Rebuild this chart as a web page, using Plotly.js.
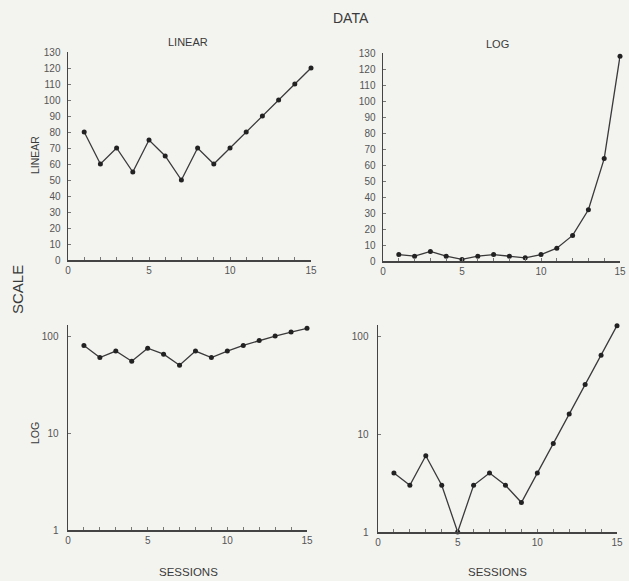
<!DOCTYPE html>
<html>
<head>
<meta charset="utf-8">
<script src="https://cdn.plot.ly/plotly-3.0.1.min.js"></script>
<style>
  html, body { margin: 0; padding: 0; background: #f3f4f0; }
  #chart { width: 629px; height: 581px; }
</style>
</head>
<body>
<div id="chart"></div>
<script>
// Sessions 1..15
const sessions = [1, 2, 3, 4, 5, 6, 7, 8, 9, 10, 11, 12, 13, 14, 15];
// Series that grows by a constant amount (linear data)
const linearData = [80, 60, 70, 55, 75, 65, 50, 70, 60, 70, 80, 90, 100, 110, 120];
// Series that doubles each step after session 9 (log data)
const logData = [4, 3, 6, 3, 1, 3, 4, 3, 2, 4, 8, 16, 32, 64, 128];

// Tick labels
const xTickVals = [0, 1, 2, 3, 4, 5, 6, 7, 8, 9, 10, 11, 12, 13, 14, 15];
const xTickText = ['0', '', '', '', '', '5', '', '', '', '', '10', '', '', '', '', '15'];
const linTickVals = [0, 10, 20, 30, 40, 50, 60, 70, 80, 90, 100, 110, 120, 130];
const logTickVals = [1, 10, 100];
const logTickText = ['1', '10', '100'];

const W = 629, H = 581;
const px = v => v / W;
const py = v => 1 - v / H;

const lineStyle = { color: '#3a3a3a', width: 1.3 };
const markerStyle = { color: '#222', size: 5 };
const tickFont = { family: 'Liberation Sans, Arial, sans-serif', size: 10, color: '#555' };

function trace(y, xa, ya) {
  return {
    x: sessions, y: y, xaxis: xa, yaxis: ya,
    type: 'scatter', mode: 'lines+markers', cliponaxis: false,
    line: lineStyle, marker: markerStyle, hoverinfo: 'skip'
  };
}

const data = [
  trace(linearData, 'x', 'y'),
  trace(logData, 'x2', 'y2'),
  trace(linearData, 'x3', 'y3'),
  trace(logData, 'x4', 'y4')
];

function xAxis(d0, d1, anchor) {
  return {
    domain: [px(d0), px(d1)], anchor: anchor, range: [0, 15],
    tickmode: 'array', tickvals: xTickVals, ticktext: xTickText,
    ticks: 'inside', ticklen: 3, tickcolor: '#777', tickwidth: 1,
    showline: true, linecolor: '#444', linewidth: 1.5,
    showgrid: false, zeroline: false, tickfont: tickFont, fixedrange: true,
    ticklabeloverflow: 'allow'
  };
}
function yLin(top, bottom, anchor) {
  return {
    domain: [py(bottom), py(top)], anchor: anchor, range: [0, 130],
    tickmode: 'array', tickvals: linTickVals,
    ticks: 'inside', ticklen: 3, tickcolor: '#777', tickwidth: 1,
    showline: true, linecolor: '#444', linewidth: 1.5,
    showgrid: false, zeroline: false, tickfont: tickFont, fixedrange: true,
    ticklabelstandoff: 4
  };
}
function yLog(top, bottom, anchor) {
  return {
    domain: [py(bottom), py(top)], anchor: anchor, type: 'log',
    range: [0, Math.log10(130)],
    tickmode: 'array', tickvals: logTickVals, ticktext: logTickText,
    ticks: 'inside', ticklen: 3, tickcolor: '#777', tickwidth: 1,
    showline: true, linecolor: '#444', linewidth: 1.5,
    showgrid: false, zeroline: false, tickfont: tickFont, fixedrange: true,
    ticklabelstandoff: 6
  };
}

const titleFont = (s) => ({ family: 'Liberation Sans, Arial, sans-serif', size: s, color: '#3a3a3a' });
function label(text, x, y, size, angle) {
  return {
    text: text, xref: 'paper', yref: 'paper', x: px(x), y: py(y),
    xanchor: 'center', yanchor: 'middle', showarrow: false,
    font: titleFont(size), textangle: angle || 0
  };
}

const layout = {
  width: W, height: H,
  margin: { l: 0, r: 0, t: 0, b: 0 },
  paper_bgcolor: '#f3f4f0', plot_bgcolor: 'rgba(0,0,0,0)',
  showlegend: false,
  xaxis: xAxis(68, 311, 'y'),
  yaxis: yLin(52, 260, 'x'),
  xaxis2: xAxis(383, 620, 'y2'),
  yaxis2: yLin(53, 261, 'x2'),
  xaxis3: xAxis(68, 307, 'y3'),
  yaxis3: yLog(325, 530, 'x3'),
  xaxis4: xAxis(378, 617, 'y4'),
  yaxis4: yLog(325, 532, 'x4'),
  annotations: [
    label('DATA', 351, 18, 14),
    label('LINEAR', 188, 42, 11),
    label('LOG', 497, 44, 11),
    label('SCALE', 17, 290, 15, -90),
    label('LINEAR', 35, 155, 10.5, -90),
    label('LOG', 35, 433, 10.5, -90),
    label('SESSIONS', 188, 572, 11.5),
    label('SESSIONS', 497, 572, 11.5)
  ]
};

Plotly.newPlot('chart', data, layout, { staticPlot: true, displayModeBar: false });
</script>
</body>
</html>
